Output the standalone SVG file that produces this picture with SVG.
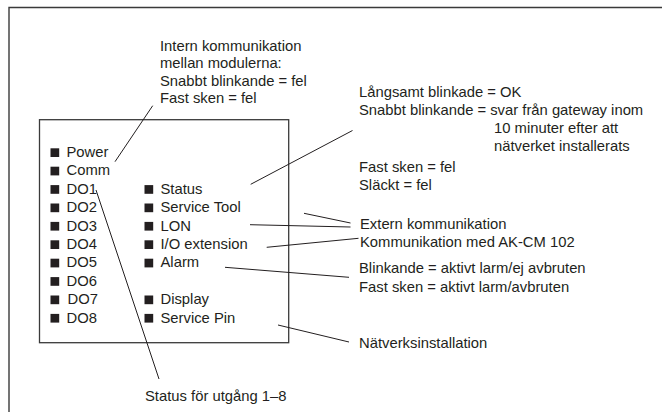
<svg xmlns="http://www.w3.org/2000/svg" width="662" height="412" viewBox="0 0 662 412">
  <style>
    text { font-family: "Liberation Sans", Arial, sans-serif; font-size: 14.8px; fill: #231f20; }
    .frame { fill: none; stroke: #3a3a3a; stroke-width: 1.4; }
    .box { fill: none; stroke: #3a3a3a; stroke-width: 1.3; }
    .led { fill: #231f20; }
    .lead { fill: none; stroke: #231f20; stroke-width: 1; }
  </style>

  <!-- page frame -->
  <path class="frame" d="M9 420 V7.5 H670"/>

  <!-- controller front panel -->
  <g id="panel">
    <rect class="box" x="39.5" y="119.7" width="249.2" height="223"/>
  </g>

  <!-- left LED column -->
  <g id="led-power"><rect class="led" x="50.5" y="148.3" width="8.7" height="8.7"/><text x="66.5" y="157">Power</text></g>
  <g id="led-comm"><rect class="led" x="50.5" y="166.7" width="8.7" height="8.7"/><text x="66.5" y="175.4">Comm</text></g>
  <g id="led-do1"><rect class="led" x="50.5" y="185.1" width="8.7" height="8.7"/><text x="66.5" y="193.8">DO1</text></g>
  <g id="led-do2"><rect class="led" x="50.5" y="203.5" width="8.7" height="8.7"/><text x="66.5" y="212.2">DO2</text></g>
  <g id="led-do3"><rect class="led" x="50.5" y="221.9" width="8.7" height="8.7"/><text x="66.5" y="230.6">DO3</text></g>
  <g id="led-do4"><rect class="led" x="50.5" y="240.3" width="8.7" height="8.7"/><text x="66.5" y="249">DO4</text></g>
  <g id="led-do5"><rect class="led" x="50.5" y="258.7" width="8.7" height="8.7"/><text x="66.5" y="267.4">DO5</text></g>
  <g id="led-do6"><rect class="led" x="50.5" y="277.1" width="8.7" height="8.7"/><text x="66.5" y="285.8">DO6</text></g>
  <g id="led-do7"><rect class="led" x="50.5" y="295.5" width="8.7" height="8.7"/><text x="67.5" y="304.2">DO7</text></g>
  <g id="led-do8"><rect class="led" x="50.5" y="313.9" width="8.7" height="8.7"/><text x="66.5" y="322.6">DO8</text></g>

  <!-- right LED column -->
  <g id="led-status"><rect class="led" x="144.5" y="185.1" width="8.7" height="8.7"/><text x="160.5" y="193.8">Status</text></g>
  <g id="led-servicetool"><rect class="led" x="144.5" y="203.5" width="8.7" height="8.7"/><text x="160.5" y="212.2">Service Tool</text></g>
  <g id="led-lon"><rect class="led" x="144.5" y="221.9" width="8.7" height="8.7"/><text x="160.5" y="230.6">LON</text></g>
  <g id="led-io"><rect class="led" x="144.5" y="240.3" width="8.7" height="8.7"/><text x="160.5" y="249">I/O extension</text></g>
  <g id="led-alarm"><rect class="led" x="144.5" y="258.7" width="8.7" height="8.7"/><text x="160.5" y="267.4">Alarm</text></g>
  <g id="led-display"><rect class="led" x="144.5" y="295.5" width="8.7" height="8.7"/><text x="160.5" y="304.2">Display</text></g>
  <g id="led-servicepin"><rect class="led" x="144.5" y="313.9" width="8.7" height="8.7"/><text x="160.5" y="322.6">Service Pin</text></g>

  <!-- explanatory notes -->
  <g id="note-intern">
    <text x="160" y="50.5">Intern kommunikation</text>
    <text x="160" y="68">mellan modulerna:</text>
    <text x="160" y="85.5">Snabbt blinkande = fel</text>
    <text x="160" y="103">Fast sken = fel</text>
  </g>
  <g id="note-status">
    <text x="359" y="96.5">Långsamt blinkade = OK</text>
    <text x="359" y="114.8">Snabbt blinkande = svar från gateway inom</text>
    <text x="494" y="133.1">10 minuter efter att</text>
    <text x="494" y="151.4">nätverket installerats</text>
    <text x="359" y="171.5">Fast sken = fel</text>
    <text x="359" y="189.8">Släckt = fel</text>
  </g>
  <g id="note-extern"><text x="360" y="229">Extern kommunikation</text></g>
  <g id="note-akcm"><text x="360" y="247.4">Kommunikation med AK-CM 102</text></g>
  <g id="note-alarm">
    <text x="359" y="273.3">Blinkande = aktivt larm/ej avbruten</text>
    <text x="359" y="291.6">Fast sken = aktivt larm/avbruten</text>
  </g>
  <g id="note-network"><text x="359" y="347.5">Nätverksinstallation</text></g>
  <g id="note-outputs"><text x="145" y="401">Status för utgång 1–8</text></g>

  <!-- leader lines -->
  <g id="connectors">
    <line class="lead" x1="152.7" y1="105.7" x2="115" y2="161.7"/>
    <line class="lead" x1="96" y1="190" x2="159" y2="379"/>
    <line class="lead" x1="250.7" y1="184.3" x2="352.5" y2="130.5"/>
    <line class="lead" x1="304" y1="213.3" x2="350.5" y2="223"/>
    <line class="lead" x1="250" y1="224.7" x2="350.5" y2="227"/>
    <line class="lead" x1="266.7" y1="247.3" x2="358.5" y2="238.3"/>
    <line class="lead" x1="225" y1="267.3" x2="349" y2="277.3"/>
    <line class="lead" x1="278" y1="325" x2="349" y2="342"/>
  </g>
</svg>
